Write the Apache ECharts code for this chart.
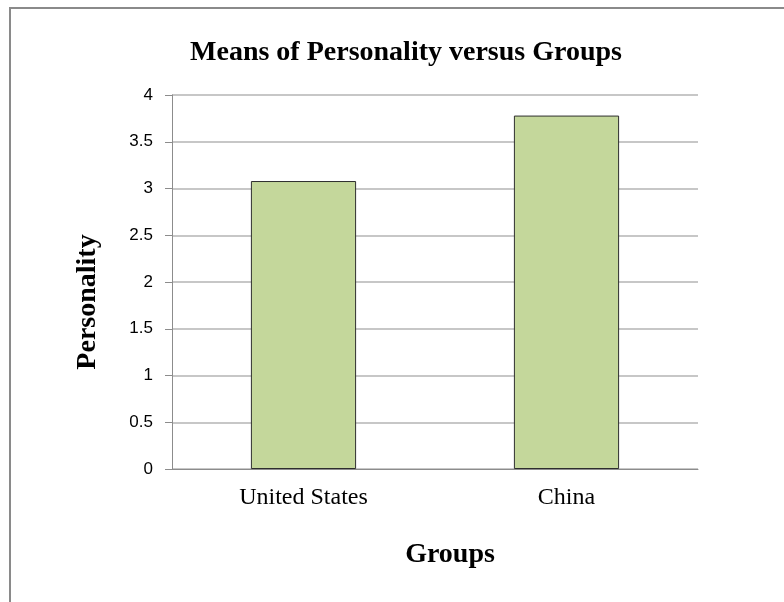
<!DOCTYPE html>
<html>
<head>
<meta charset="utf-8">
<script src="https://cdn.jsdelivr.net/npm/echarts@6/dist/echarts.min.js"></script>
<style>
  html, body { margin: 0; padding: 0; background: #fff; }
  #main { width: 784px; height: 602px; }
</style>
</head>
<body>
<div id="main"></div>
<script>
// data
const groups = ['United States', 'China'];
const personalityMeans = [3.08, 3.78];
const yTicks = [0, 0.5, 1, 1.5, 2, 2.5, 3, 3.5, 4];

const chartDom = document.getElementById('main');
const myChart = echarts.init(chartDom);

const serif = '"Liberation Serif", "Times New Roman", serif';
const sans = '"Liberation Sans", Arial, sans-serif';

const option = {
    backgroundColor: '#fff',
    animation: false,
    title: {
        text: 'Means of Personality versus Groups',
        left: 401,
        top: 34,
        textAlign: 'center',
        textStyle: { fontFamily: serif, fontWeight: 'bold', fontSize: 28, color: '#000' }
    },
    grid: { left: 172, right: 86, top: 95, bottom: 133 },
    xAxis: {
        type: 'category',
        data: groups,
        axisLine: { lineStyle: { color: '#8c8c8c' } },
        axisTick: { length: 7, lineStyle: { color: '#8c8c8c' } },
        axisLabel: { margin: 17, fontFamily: serif, fontSize: 24, color: '#000' }
    },
    yAxis: {
        type: 'value',
        min: yTicks[0],
        max: yTicks[yTicks.length - 1],
        interval: 0.5,
        axisLine: { show: true, lineStyle: { color: '#8c8c8c' } },
        axisTick: { show: true, length: 7, lineStyle: { color: '#8c8c8c' } },
        axisLabel: { margin: 19, fontFamily: sans, fontSize: 17, color: '#000' },
        splitLine: { lineStyle: { color: '#b4b4b4', width: 1.5 } }
    },
    series: [
        {
            type: 'bar',
            data: personalityMeans,
            barWidth: '40%',
            itemStyle: { color: '#c4d79b', borderColor: '#2e2e2e', borderWidth: 1 }
        }
    ],
    graphic: [
        {
            type: 'rect',
            shape: { x: 10, y: 8, width: 800, height: 620 },
            style: { fill: null, stroke: '#8a8a8a', lineWidth: 2 },
            silent: true
        },
        {
            type: 'text',
            x: 450, y: 555,
            style: {
                text: 'Groups', fill: '#000',
                font: 'bold 28px ' + serif,
                textAlign: 'center', textVerticalAlign: 'middle'
            }
        },
        {
            type: 'text',
            x: 88, y: 302,
            rotation: Math.PI / 2,
            style: {
                text: 'Personality', fill: '#000',
                font: 'bold 28px ' + serif,
                textAlign: 'center', textVerticalAlign: 'middle'
            }
        }
    ]
};

option && myChart.setOption(option);
</script>
</body>
</html>
